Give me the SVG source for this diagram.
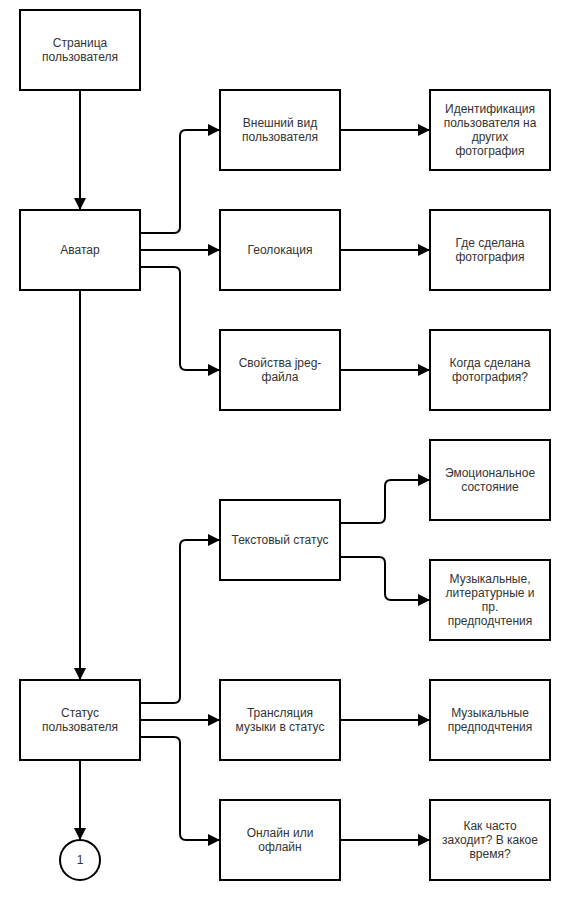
<svg xmlns="http://www.w3.org/2000/svg" width="575" height="900" viewBox="0 0 575 900">
<style>
.box{fill:#fff;stroke:#000;stroke-width:2}
.t{font-family:"Liberation Sans",Arial,sans-serif;font-size:12px;fill:#333;text-anchor:middle}
.c{fill:none;stroke:#000;stroke-width:2;stroke-linejoin:round}
</style>
<defs>
<marker id="ah" viewBox="0 0 12 12" refX="12" refY="6" markerWidth="12" markerHeight="12" markerUnits="userSpaceOnUse" orient="auto">
<path d="M0,0 L12,6 L0,12 Z" fill="#000"/>
</marker>
</defs>
<rect width="575" height="900" fill="#fff"/>
<g id="connectors">
<path class="c" d="M80,90 V210" marker-end="url(#ah)"/>
<path class="c" d="M80,290 V680" marker-end="url(#ah)"/>
<path class="c" d="M80,760 V840" marker-end="url(#ah)"/>
<path class="c" d="M140,233 H174 Q180,233 180,227 V136 Q180,130 186,130 H220" marker-end="url(#ah)"/>
<path class="c" d="M140,250 H220" marker-end="url(#ah)"/>
<path class="c" d="M140,267 H174 Q180,267 180,273 V364 Q180,370 186,370 H220" marker-end="url(#ah)"/>
<path class="c" d="M340,130 H430" marker-end="url(#ah)"/>
<path class="c" d="M340,250 H430" marker-end="url(#ah)"/>
<path class="c" d="M340,370 H430" marker-end="url(#ah)"/>
<path class="c" d="M140,703 H174 Q180,703 180,697 V546 Q180,540 186,540 H220" marker-end="url(#ah)"/>
<path class="c" d="M140,720 H220" marker-end="url(#ah)"/>
<path class="c" d="M140,737 H174 Q180,737 180,743 V834 Q180,840 186,840 H220" marker-end="url(#ah)"/>
<path class="c" d="M340,523 H379 Q385,523 385,517 V486 Q385,480 391,480 H430" marker-end="url(#ah)"/>
<path class="c" d="M340,557 H379 Q385,557 385,563 V594 Q385,600 391,600 H430" marker-end="url(#ah)"/>
<path class="c" d="M340,720 H430" marker-end="url(#ah)"/>
<path class="c" d="M340,840 H430" marker-end="url(#ah)"/>
</g>
<g id="n-page"><rect class="box" x="20" y="10" width="120" height="80"/><text class="t" x="80" y="47">Страница</text><text class="t" x="80" y="61">пользователя</text></g>
<g id="n-avatar"><rect class="box" x="20" y="210" width="120" height="80"/><text class="t" x="80" y="254">Аватар</text></g>
<g id="n-look"><rect class="box" x="220" y="90" width="120" height="80"/><text class="t" x="280" y="127">Внешний вид</text><text class="t" x="280" y="141">пользователя</text></g>
<g id="n-ident"><rect class="box" x="430" y="90" width="120" height="80"/><text class="t" x="490" y="113">Идентификация</text><text class="t" x="490" y="127">пользователя на</text><text class="t" x="490" y="141">других</text><text class="t" x="490" y="155">фотография</text></g>
<g id="n-geo"><rect class="box" x="220" y="210" width="120" height="80"/><text class="t" x="280" y="254">Геолокация</text></g>
<g id="n-where"><rect class="box" x="430" y="210" width="120" height="80"/><text class="t" x="490" y="247">Где сделана</text><text class="t" x="490" y="261">фотография</text></g>
<g id="n-jpeg"><rect class="box" x="220" y="330" width="120" height="80"/><text class="t" x="280" y="367">Свойства jpeg-</text><text class="t" x="280" y="381">файла</text></g>
<g id="n-when"><rect class="box" x="430" y="330" width="120" height="80"/><text class="t" x="490" y="367">Когда сделана</text><text class="t" x="490" y="381">фотография?</text></g>
<g id="n-emo"><rect class="box" x="430" y="440" width="120" height="80"/><text class="t" x="490" y="477">Эмоциональное</text><text class="t" x="490" y="491">состояние</text></g>
<g id="n-text"><rect class="box" x="220" y="500" width="120" height="80"/><text class="t" x="280" y="544">Текстовый статус</text></g>
<g id="n-pref"><rect class="box" x="430" y="560" width="120" height="80"/><text class="t" x="490" y="583">Музыкальные,</text><text class="t" x="490" y="597">литературные и</text><text class="t" x="490" y="611">пр.</text><text class="t" x="490" y="625">предподчтения</text></g>
<g id="n-status"><rect class="box" x="20" y="680" width="120" height="80"/><text class="t" x="80" y="717">Статус</text><text class="t" x="80" y="731">пользователя</text></g>
<g id="n-music"><rect class="box" x="220" y="680" width="120" height="80"/><text class="t" x="280" y="717">Трансляция</text><text class="t" x="280" y="731">музыки в статус</text></g>
<g id="n-musicpref"><rect class="box" x="430" y="680" width="120" height="80"/><text class="t" x="490" y="717">Музыкальные</text><text class="t" x="490" y="731">предподчтения</text></g>
<g id="n-online"><rect class="box" x="220" y="800" width="120" height="80"/><text class="t" x="280" y="837">Онлайн или</text><text class="t" x="280" y="851">офлайн</text></g>
<g id="n-often"><rect class="box" x="430" y="800" width="120" height="80"/><text class="t" x="490" y="830">Как часто</text><text class="t" x="490" y="844">заходит? В какое</text><text class="t" x="490" y="858">время?</text></g>
<g id="n-one"><circle class="box" cx="80" cy="860" r="20"/><text class="t" x="80" y="864">1</text></g>
</svg>
